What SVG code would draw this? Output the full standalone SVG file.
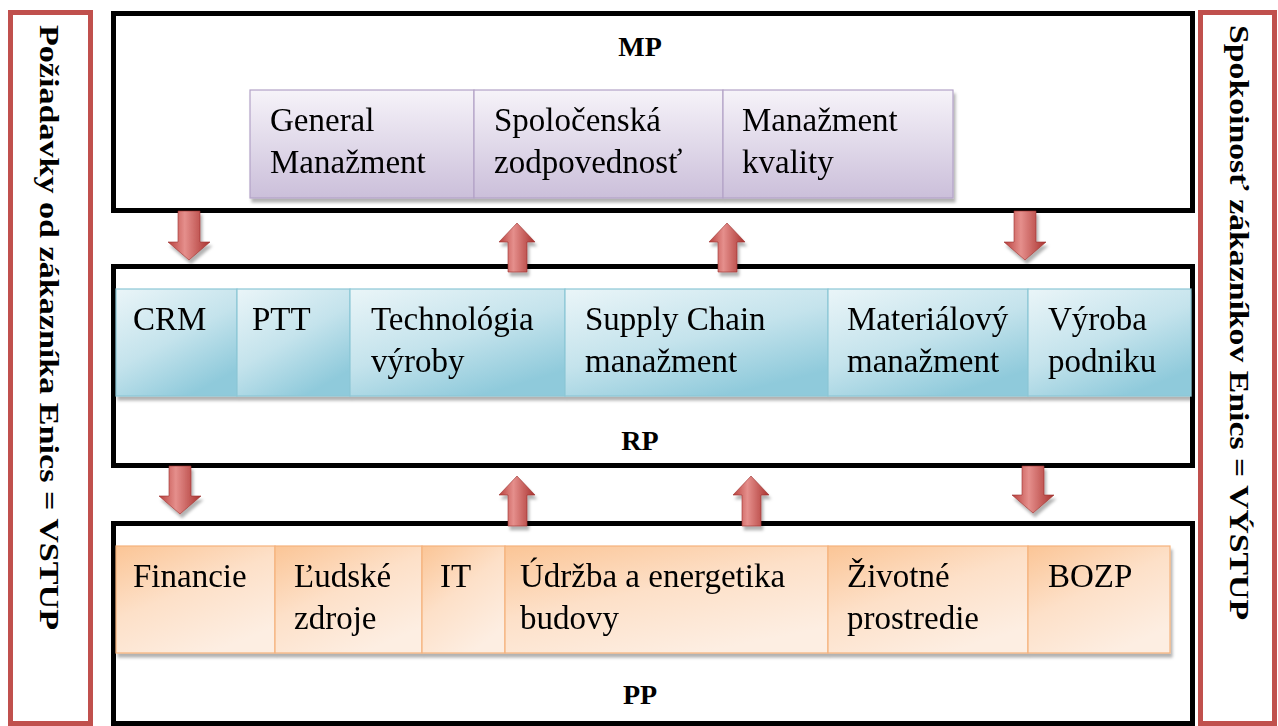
<svg xmlns="http://www.w3.org/2000/svg" width="1278" height="726" viewBox="0 0 1278 726">
<defs>
<linearGradient id="gPurple" x1="0" y1="0" x2="0" y2="1">
<stop offset="0" stop-color="#f6f3f9"/><stop offset="1" stop-color="#cbbfda"/>
</linearGradient>
<linearGradient id="gBlue" x1="0" y1="0" x2="0.6" y2="1">
<stop offset="0" stop-color="#eaf5f8"/><stop offset="0.55" stop-color="#c4e3ec"/><stop offset="1" stop-color="#8fcadb"/>
</linearGradient>
<linearGradient id="gOrange" x1="0" y1="0" x2="0.6" y2="1">
<stop offset="0" stop-color="#fbc596"/><stop offset="0.5" stop-color="#fde0c8"/><stop offset="1" stop-color="#fdeee2"/>
</linearGradient>
<linearGradient id="gArrow" x1="0" y1="0" x2="1" y2="0">
<stop offset="0" stop-color="#b8403d"/><stop offset="0.4" stop-color="#e58f8c"/><stop offset="1" stop-color="#a9322f"/>
</linearGradient>
<filter id="sh" x="-5%" y="-5%" width="110%" height="120%">
<feDropShadow dx="2" dy="4" stdDeviation="1.5" flood-color="#000" flood-opacity="0.3"/>
</filter>
</defs>
<style>
.frame{fill:#fff;stroke:#000;stroke-width:5}
.side{fill:#fff;stroke:#c0504d;stroke-width:5}
.t{font-family:"Liberation Serif","Times New Roman",serif;font-size:33px;fill:#000}
.h{font-family:"Liberation Serif","Times New Roman",serif;font-size:28px;font-weight:bold;fill:#000}
.sv{font-family:"Liberation Serif","Times New Roman",serif;font-size:28px;font-weight:bold;fill:#000}
.p{fill:url(#gPurple);stroke:#b3a2c7;stroke-width:1.2}
.b{fill:url(#gBlue);stroke:#8cc7d6;stroke-width:1.2}
.o{fill:url(#gOrange);stroke:#f5b27c;stroke-width:1.2}
.arr{fill:url(#gArrow);stroke:#9b2f2c;stroke-width:0.6}
</style>

<g id="left-input">
<rect class="side" x="10.5" y="12.5" width="80" height="711"/>
<text class="sv" transform="translate(40,25) rotate(90)" textLength="605" lengthAdjust="spacingAndGlyphs">Požiadavky od zákazníka Enics = VSTUP</text>
</g>
<g id="right-output">
<rect class="side" x="1200.5" y="12.5" width="74" height="711"/>
<text class="sv" transform="translate(1230,25) rotate(90)" textLength="595" lengthAdjust="spacingAndGlyphs">Spokoinosť zákazníkov Enics = VÝSTUP</text>
</g>

<g id="MP">
<rect class="frame" x="113.5" y="13.5" width="1079" height="197"/>
<text class="h" x="640" y="56" text-anchor="middle">MP</text>
</g>
<g id="RP">
<rect class="frame" x="113.5" y="266.5" width="1079" height="199"/>
<text class="h" x="640" y="450" text-anchor="middle">RP</text>
</g>
<g id="PP">
<rect class="frame" x="113.5" y="523.5" width="1079" height="200"/>
<text class="h" x="640" y="704" text-anchor="middle">PP</text>
</g>

<g id="mp-items" filter="url(#sh)">
<g id="general"><rect class="p" x="250" y="90" width="224" height="108"/><text class="t" x="270" y="131">General</text><text class="t" x="270" y="173">Manažment</text></g>
<g id="spolocenska"><rect class="p" x="474" y="90" width="249" height="108"/><text class="t" x="494" y="131">Spoločenská</text><text class="t" x="494" y="173">zodpovednosť</text></g>
<g id="kvalita"><rect class="p" x="723" y="90" width="230" height="108"/><text class="t" x="742" y="131">Manažment</text><text class="t" x="742" y="173">kvality</text></g>
</g>

<g id="rp-items" filter="url(#sh)">
<g id="crm"><rect class="b" x="116" y="289" width="121" height="107"/><text class="t" x="133" y="330">CRM</text></g>
<g id="ptt"><rect class="b" x="237" y="289" width="113" height="107"/><text class="t" x="252" y="330">PTT</text></g>
<g id="technologia"><rect class="b" x="350" y="289" width="215" height="107"/><text class="t" x="371" y="330">Technológia</text><text class="t" x="371" y="372">výroby</text></g>
<g id="supply"><rect class="b" x="565" y="289" width="263" height="107"/><text class="t" x="585" y="330">Supply Chain</text><text class="t" x="585" y="372">manažment</text></g>
<g id="materialovy"><rect class="b" x="828" y="289" width="200" height="107"/><text class="t" x="847" y="330">Materiálový</text><text class="t" x="847" y="372">manažment</text></g>
<g id="vyroba"><rect class="b" x="1028" y="289" width="163" height="107"/><text class="t" x="1048" y="330">Výroba</text><text class="t" x="1048" y="372">podniku</text></g>
</g>

<g id="pp-items" filter="url(#sh)">
<g id="financie"><rect class="o" x="116" y="546" width="159" height="107"/><text class="t" x="133" y="587">Financie</text></g>
<g id="ludske"><rect class="o" x="275" y="546" width="147" height="107"/><text class="t" x="294" y="587">Ľudské</text><text class="t" x="294" y="629">zdroje</text></g>
<g id="it"><rect class="o" x="422" y="546" width="83" height="107"/><text class="t" x="440" y="587">IT</text></g>
<g id="udrzba"><rect class="o" x="505" y="546" width="323" height="107"/><text class="t" x="520" y="587">Údržba a energetika</text><text class="t" x="520" y="629">budovy</text></g>
<g id="zivotne"><rect class="o" x="828" y="546" width="200" height="107"/><text class="t" x="847" y="587">Životné</text><text class="t" x="847" y="629">prostredie</text></g>
<g id="bozp"><rect class="o" x="1028" y="546" width="142" height="107"/><text class="t" x="1048" y="587">BOZP</text></g>
</g>

<g id="connectors" filter="url(#sh)">
<path class="arr" d="M178 211 H200 V242 H210 L189 260 L168 242 H178 Z"/>
<path class="arr" d="M1014 211 H1036 V242 H1046 L1025 260 L1004 242 H1014 Z"/>
<path class="arr" d="M508 272 H527 V242 H535 L517 223 L499 242 H508 Z"/>
<path class="arr" d="M718 272 H737 V242 H745 L727 223 L709 242 H718 Z"/>
<path class="arr" d="M169 466 H191 V496 H201 L180 514 L159 496 H169 Z"/>
<path class="arr" d="M1022 466 H1044 V495 H1054 L1033 513 L1012 495 H1022 Z"/>
<path class="arr" d="M508 526 H527 V495 H535 L517 476 L499 495 H508 Z"/>
<path class="arr" d="M742 526 H761 V495 H769 L751 476 L733 495 H742 Z"/>
</g>
</svg>
